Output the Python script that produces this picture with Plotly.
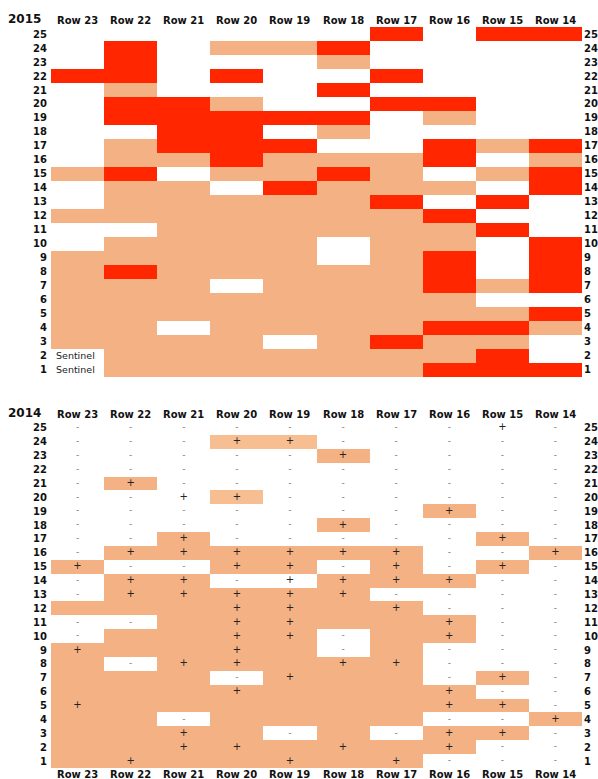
import plotly.graph_objects as go

columns = ["Row 23", "Row 22", "Row 21", "Row 20", "Row 19",
           "Row 18", "Row 17", "Row 16", "Row 15", "Row 14"]
rows_top_down = list(range(25, 0, -1))

# 2015: 0 = white, 1 = light orange, 2 = red (listed from row 25 down to row 1)
status_2015 = [
    [0, 0, 0, 0, 0, 0, 2, 0, 2, 2],
    [0, 2, 0, 1, 1, 2, 0, 0, 0, 0],
    [0, 2, 0, 0, 0, 1, 0, 0, 0, 0],
    [2, 2, 0, 2, 0, 0, 2, 0, 0, 0],
    [0, 1, 0, 0, 0, 2, 0, 0, 0, 0],
    [0, 2, 2, 1, 0, 0, 2, 2, 0, 0],
    [0, 2, 2, 2, 2, 2, 0, 1, 0, 0],
    [0, 0, 2, 2, 0, 1, 0, 0, 0, 0],
    [0, 1, 2, 2, 2, 0, 0, 2, 1, 2],
    [0, 1, 1, 2, 1, 1, 1, 2, 0, 1],
    [1, 2, 0, 1, 1, 2, 1, 0, 1, 2],
    [0, 1, 1, 0, 2, 1, 1, 1, 0, 2],
    [0, 1, 1, 1, 1, 1, 2, 0, 2, 0],
    [1, 1, 1, 1, 1, 1, 1, 2, 0, 0],
    [0, 0, 1, 1, 1, 1, 1, 1, 2, 0],
    [0, 1, 1, 1, 1, 0, 1, 1, 0, 2],
    [1, 1, 1, 1, 1, 0, 1, 2, 0, 2],
    [1, 2, 1, 1, 1, 1, 1, 2, 0, 2],
    [1, 1, 1, 0, 1, 1, 1, 2, 1, 2],
    [1, 1, 1, 1, 1, 1, 1, 1, 0, 0],
    [1, 1, 1, 1, 1, 1, 1, 1, 1, 2],
    [1, 1, 0, 1, 1, 1, 1, 2, 2, 1],
    [1, 1, 1, 1, 0, 1, 2, 1, 1, 0],
    [0, 1, 1, 1, 1, 1, 1, 1, 2, 0],
    [0, 1, 1, 1, 1, 1, 1, 2, 2, 2],
]

# 2014: 0 = white, 1 = light orange, 3 = paler orange
status_2014 = [
    [0, 0, 0, 0, 0, 0, 0, 0, 0, 0],
    [0, 0, 0, 3, 3, 0, 0, 0, 0, 0],
    [0, 0, 0, 0, 0, 1, 0, 0, 0, 0],
    [0, 0, 0, 0, 0, 0, 0, 0, 0, 0],
    [0, 1, 0, 0, 0, 0, 0, 0, 0, 0],
    [0, 0, 0, 3, 0, 0, 0, 0, 0, 0],
    [0, 0, 0, 0, 0, 0, 0, 1, 0, 0],
    [0, 0, 0, 0, 0, 1, 0, 0, 0, 0],
    [0, 0, 1, 0, 0, 0, 0, 0, 1, 0],
    [0, 1, 1, 1, 1, 1, 1, 0, 0, 1],
    [1, 0, 0, 1, 1, 0, 1, 0, 1, 0],
    [0, 1, 1, 0, 0, 1, 1, 1, 0, 0],
    [0, 1, 1, 1, 1, 1, 0, 0, 0, 0],
    [1, 1, 1, 1, 1, 1, 1, 0, 0, 0],
    [0, 0, 1, 1, 1, 1, 1, 1, 0, 0],
    [0, 1, 1, 1, 1, 0, 1, 1, 0, 0],
    [1, 1, 1, 1, 1, 0, 1, 0, 0, 0],
    [1, 0, 1, 1, 1, 1, 1, 0, 0, 0],
    [1, 1, 1, 0, 1, 1, 1, 0, 1, 0],
    [1, 1, 1, 1, 1, 1, 1, 1, 0, 0],
    [1, 1, 1, 1, 1, 1, 1, 1, 1, 0],
    [1, 1, 0, 1, 1, 1, 1, 0, 0, 1],
    [1, 1, 1, 1, 0, 1, 0, 1, 1, 0],
    [1, 1, 1, 1, 1, 1, 1, 1, 0, 0],
    [1, 1, 1, 1, 1, 1, 1, 0, 0, 0],
]

marks_2014 = [
    ["-", "-", "-", "-", "-", "-", "-", "-", "+", "-"],
    ["-", "-", "-", "+", "+", "-", "-", "-", "-", "-"],
    ["-", "-", "-", "-", "-", "+", "-", "-", "-", "-"],
    ["-", "-", "-", "-", "-", "-", "-", "-", "-", "-"],
    ["-", "+", "-", "-", "-", "-", "-", "-", "-", "-"],
    ["-", "-", "+", "+", "-", "-", "-", "-", "-", "-"],
    ["-", "-", "-", "-", "-", "-", "-", "+", "-", "-"],
    ["-", "-", "-", "-", "-", "+", "-", "-", "-", "-"],
    ["-", "-", "+", "-", "-", "-", "-", "-", "+", "-"],
    ["-", "+", "+", "+", "+", "+", "+", "-", "-", "+"],
    ["+", "-", "-", "+", "+", "-", "+", "-", "+", "-"],
    ["-", "+", "+", "-", "+", "+", "+", "+", "-", "-"],
    ["-", "+", "+", "+", "+", "+", "-", "-", "-", "-"],
    ["", "", "", "+", "+", "", "+", "-", "-", "-"],
    ["-", "-", "", "+", "+", "", "", "+", "-", "-"],
    ["-", "", "", "+", "+", "-", "", "+", "-", "-"],
    ["+", "", "", "+", "", "-", "", "-", "-", "-"],
    ["", "-", "+", "+", "", "+", "+", "-", "-", "-"],
    ["", "", "", "-", "+", "", "", "-", "+", "-"],
    ["", "", "", "+", "", "", "", "+", "-", "-"],
    ["+", "", "", "", "", "", "", "+", "+", "-"],
    ["", "", "-", "", "", "", "", "-", "-", "+"],
    ["", "", "+", "", "-", "", "-", "+", "+", "-"],
    ["", "", "+", "+", "", "+", "", "+", "-", "-"],
    ["", "+", "", "", "+", "", "+", "-", "-", "-"],
]

sentinel_rows = [2, 1]

WHITE = "#FFFFFF"
ORANGE = "#F4B183"
RED = "#FF2600"
PALE = "#F7BE91"
colorscale = [[0, WHITE], [1 / 6, WHITE], [1 / 6, ORANGE], [0.5, ORANGE],
              [0.5, RED], [5 / 6, RED], [5 / 6, PALE], [1, PALE]]

xs = list(range(len(columns)))
FONT = "DejaVu Sans"

fig = go.Figure()
fig.add_trace(go.Heatmap(z=status_2015, x=xs, y=rows_top_down, zmin=0, zmax=3,
                         colorscale=colorscale, showscale=False,
                         xaxis="x", yaxis="y", hoverinfo="skip"))
fig.add_trace(go.Heatmap(z=status_2014, x=xs, y=rows_top_down, zmin=0, zmax=3,
                         colorscale=colorscale, showscale=False,
                         xaxis="x2", yaxis="y2", hoverinfo="skip"))

for sym, col, size in [("+", "#222222", 10), ("-", "#777777", 9)]:
    px, py = [], []
    for ri, r in enumerate(rows_top_down):
        for ci in xs:
            if marks_2014[ri][ci] == sym:
                px.append(ci)
                py.append(r)
    fig.add_trace(go.Scatter(x=px, y=py, mode="text", text=[sym] * len(px),
                             textposition="middle center",
                             textfont=dict(family=FONT, size=size, color=col),
                             xaxis="x2", yaxis="y2", hoverinfo="skip",
                             showlegend=False))

ann = []
for yref, year in [("y", "2015"), ("y2", "2014")]:
    for r in rows_top_down:
        ann.append(dict(x=0, xref="paper", y=r, yref=yref, text="<b>%d</b>" % r,
                        xanchor="right", xshift=-2, showarrow=False,
                        font=dict(family=FONT, size=10, color="#111111")))
        ann.append(dict(x=1, xref="paper", y=r, yref=yref, text="<b>%d</b>" % r,
                        xanchor="left", xshift=0, showarrow=False,
                        font=dict(family=FONT, size=10, color="#111111")))
    xref = "x" if yref == "y" else "x2"
    for ci, c in enumerate(columns):
        ann.append(dict(x=ci, xref=xref, y=25.5, yref=yref, text="<b>" + c + "</b>",
                        yanchor="bottom", yshift=-1, showarrow=False,
                        font=dict(family=FONT, size=10, color="#111111")))
    ann.append(dict(x=0, xref="paper", y=25.5, yref=yref, text="<b>" + year + "</b>",
                    xanchor="right", xshift=-8, yanchor="bottom", yshift=-1,
                    showarrow=False,
                    font=dict(family=FONT, size=12, color="#111111")))
for ci, c in enumerate(columns):
    ann.append(dict(x=ci, xref="x2", y=0.5, yref="y2", text="<b>" + c + "</b>",
                    yanchor="top", yshift=1, showarrow=False,
                    font=dict(family=FONT, size=10, color="#111111")))
for r in sentinel_rows:
    ann.append(dict(x=-0.45, xref="x", y=r, yref="y", text="Sentinel",
                    xanchor="left", showarrow=False,
                    font=dict(family=FONT, size=9.5, color="#222222")))

axis_common = dict(showgrid=False, zeroline=False, showticklabels=False,
                   ticks="", showline=False, fixedrange=True)
fig.update_layout(
    width=598, height=779,
    margin=dict(l=51, r=16, t=27, b=11),
    paper_bgcolor="white", plot_bgcolor="white",
    showlegend=False,
    annotations=ann,
    xaxis=dict(range=[-0.5, 9.5], anchor="y", domain=[0, 1], **axis_common),
    yaxis=dict(range=[0.5, 25.5], anchor="x", domain=[0.5277, 1], **axis_common),
    xaxis2=dict(range=[-0.5, 9.5], anchor="y2", domain=[0, 1], **axis_common),
    yaxis2=dict(range=[0.5, 25.5], anchor="x2", domain=[0, 0.4683], **axis_common),
)

fig.write_html("out.html",
               config={"displayModeBar": False, "staticPlot": True},
               post_script="document.body.style.margin='0';"
                           "document.body.style.overflow='hidden';")
